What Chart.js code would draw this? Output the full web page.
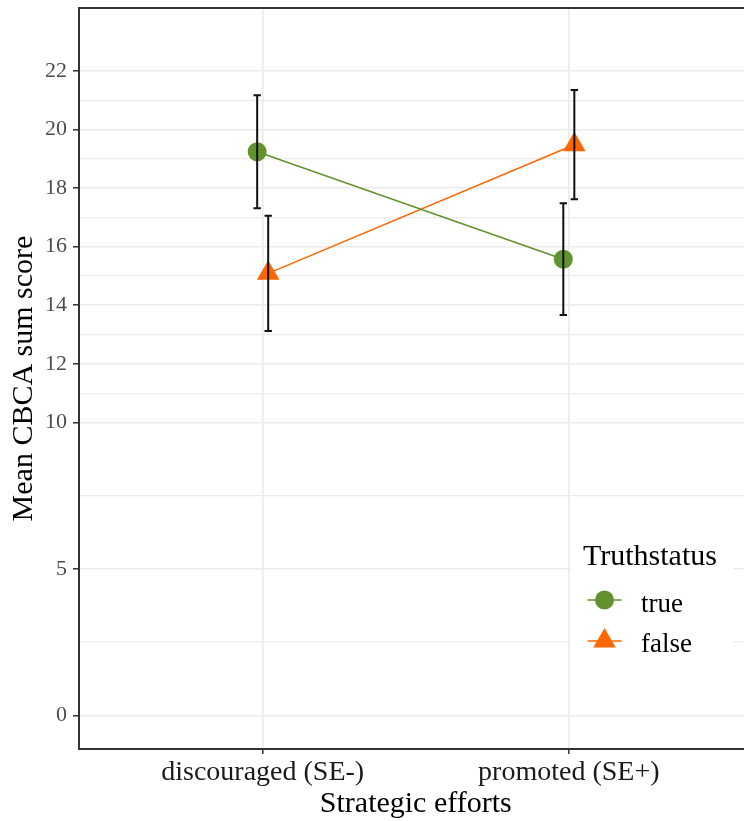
<!DOCTYPE html>
<html>
<head>
<meta charset="utf-8">
<script src="https://cdn.jsdelivr.net/npm/chart.js@4/dist/chart.umd.min.js"></script>
<style>
html, body { margin: 0; padding: 0; overflow: hidden; background: #fff; }
#wrap { width: 760px; height: 821px; }
</style>
</head>
<body>
<div id="wrap"><canvas id="c" width="760" height="821"></canvas></div>
<script>
const categories = ['discouraged (SE-)', 'promoted (SE+)'];
const seriesNames = ['true', 'false'];
const trueMeans = [19.24, 15.57];
const trueLower = [17.31, 13.67];
const trueUpper = [21.17, 17.48];
const falseMeans = [15.09, 19.48];
const falseLower = [13.12, 17.62];
const falseUpper = [17.06, 21.35];
const yMajorTicks = [0, 5, 10, 12, 14, 16, 18, 20, 22];
const yMinorTicks = [2.5, 7.5, 11, 13, 15, 17, 19, 21];

const GREEN = '#62912E';
const ORANGE = '#FF6600';
const SERIF = '"Liberation Serif", "Times New Roman", serif';
const DODGE = 0.018;

const lowers = [trueLower, falseLower];
const uppers = [trueUpper, falseUpper];

function pts(means, off) {
  return means.map((v, i) => ({ x: i + 1 + off, y: v }));
}
const isMajor = v => yMajorTicks.includes(v);
function zeroPad(s) { s.paddingTop = 0; s.paddingBottom = 0; s.paddingLeft = 0; s.paddingRight = 0; }

const errorBars = {
  id: 'errorBars',
  afterDatasetsDraw(chart) {
    const ctx = chart.ctx;
    const ys = chart.scales.y;
    ctx.save();
    ctx.strokeStyle = '#111';
    ctx.lineWidth = 2;
    chart.data.datasets.forEach((ds, di) => {
      const meta = chart.getDatasetMeta(di);
      meta.data.forEach((el, j) => {
        const x = el.x;
        const yl = ys.getPixelForValue(lowers[di][j]);
        const yu = ys.getPixelForValue(uppers[di][j]);
        ctx.beginPath();
        ctx.moveTo(x, yl); ctx.lineTo(x, yu);
        ctx.moveTo(x - 3.7, yl); ctx.lineTo(x + 3.7, yl);
        ctx.moveTo(x - 3.7, yu); ctx.lineTo(x + 3.7, yu);
        ctx.stroke();
      });
    });
    ctx.restore();
  }
};

const frameAndLegend = {
  id: 'frameAndLegend',
  afterDraw(chart) {
    const ctx = chart.ctx;
    const a = chart.chartArea;
    ctx.save();
    ctx.strokeStyle = '#333';
    ctx.lineWidth = 2;
    ctx.beginPath();
    ctx.moveTo(a.left - 1, a.top);
    ctx.lineTo(chart.width, a.top);
    ctx.stroke();
    ctx.fillStyle = '#fff';
    ctx.fillRect(571, 533, 162, 132);
    ctx.fillStyle = '#000';
    ctx.textBaseline = 'alphabetic';
    ctx.textAlign = 'left';
    ctx.font = '30px ' + SERIF;
    ctx.fillText('Truthstatus', 583, 565);
    ctx.font = '27px ' + SERIF;
    ctx.fillText(seriesNames[0], 641, 611.5);
    ctx.fillText(seriesNames[1], 641, 651.5);
    ctx.lineWidth = 1.5;
    ctx.strokeStyle = GREEN;
    ctx.beginPath(); ctx.moveTo(587.5, 600); ctx.lineTo(621.5, 600); ctx.stroke();
    ctx.fillStyle = GREEN;
    ctx.beginPath(); ctx.arc(604.5, 600, 9.5, 0, Math.PI * 2); ctx.fill();
    ctx.strokeStyle = ORANGE;
    ctx.beginPath(); ctx.moveTo(587.5, 641); ctx.lineTo(621.5, 641); ctx.stroke();
    ctx.fillStyle = ORANGE;
    const r = 13, cx = 604.5, cy = 641;
    ctx.beginPath();
    ctx.moveTo(cx, cy - r);
    ctx.lineTo(cx + r * Math.sqrt(3) / 2, cy + r / 2);
    ctx.lineTo(cx - r * Math.sqrt(3) / 2, cy + r / 2);
    ctx.closePath(); ctx.fill();
    ctx.restore();
  }
};

new Chart(document.getElementById('c'), {
  type: 'line',
  data: {
    datasets: [
      {
        label: seriesNames[0],
        data: pts(trueMeans, -DODGE),
        borderColor: GREEN, backgroundColor: GREEN,
        borderWidth: 1.5,
        pointStyle: 'circle', pointRadius: 9.5, pointBorderWidth: 0,
        pointBackgroundColor: GREEN,
        tension: 0
      },
      {
        label: seriesNames[1],
        data: pts(falseMeans, DODGE),
        borderColor: ORANGE, backgroundColor: ORANGE,
        borderWidth: 1.5,
        pointStyle: 'triangle', pointRadius: 13, pointBorderWidth: 0,
        pointBackgroundColor: ORANGE,
        tension: 0
      }
    ]
  },
  options: {
    responsive: false,
    animation: false,
    events: [],
    layout: { autoPadding: false, padding: { top: 8, left: 0, right: 7.5, bottom: 0 } },
    plugins: { legend: { display: false }, tooltip: { enabled: false } },
    scales: {
      x: {
        type: 'linear',
        min: 0.4, max: 2.6,
        afterBuildTicks: s => { s.ticks = categories.map((c, i) => ({ value: i + 1 })); },
        afterFit: s => { s.height = 72; zeroPad(s); },
        ticks: {
          autoSkip: false, maxRotation: 0, padding: 2,
          color: '#1a1a1a',
          font: { family: SERIF, size: 28 },
          callback: v => categories[Math.round(v) - 1]
        },
        grid: { color: '#ebebeb', lineWidth: 1.6, tickColor: '#333', tickLength: 5, tickWidth: 1.5 },
        border: { display: true, color: '#333', width: 2 },
        title: {
          display: true, text: 'Strategic efforts', color: '#000',
          font: { family: SERIF, size: 30, lineHeight: 1.12 },
          padding: { top: 0, bottom: 0 }
        }
      },
      y: {
        type: 'linear',
        min: -1.15, max: 24.15,
        afterBuildTicks: s => {
          s.ticks = yMajorTicks.concat(yMinorTicks).sort((a, b) => a - b).map(v => ({ value: v }));
        },
        afterFit: s => { s.width = 79; zeroPad(s); },
        ticks: {
          autoSkip: false, padding: 6,
          color: '#4d4d4d',
          font: { family: SERIF, size: 22 },
          callback: v => isMajor(v) ? String(v) : ''
        },
        grid: {
          color: '#ebebeb',
          lineWidth: c => (c.tick && isMajor(c.tick.value)) ? 1.6 : 1.2,
          tickColor: c => (c.tick && isMajor(c.tick.value)) ? '#333' : 'rgba(0,0,0,0)',
          tickLength: 6, tickWidth: 1.5
        },
        border: { display: true, color: '#333', width: 2 },
        title: {
          display: true, text: 'Mean CBCA sum score', color: '#000',
          font: { family: SERIF, size: 30, lineHeight: 1.2 },
          padding: { top: 6, bottom: 0 }
        }
      }
    }
  },
  plugins: [errorBars, frameAndLegend]
});
</script>
</body>
</html>
